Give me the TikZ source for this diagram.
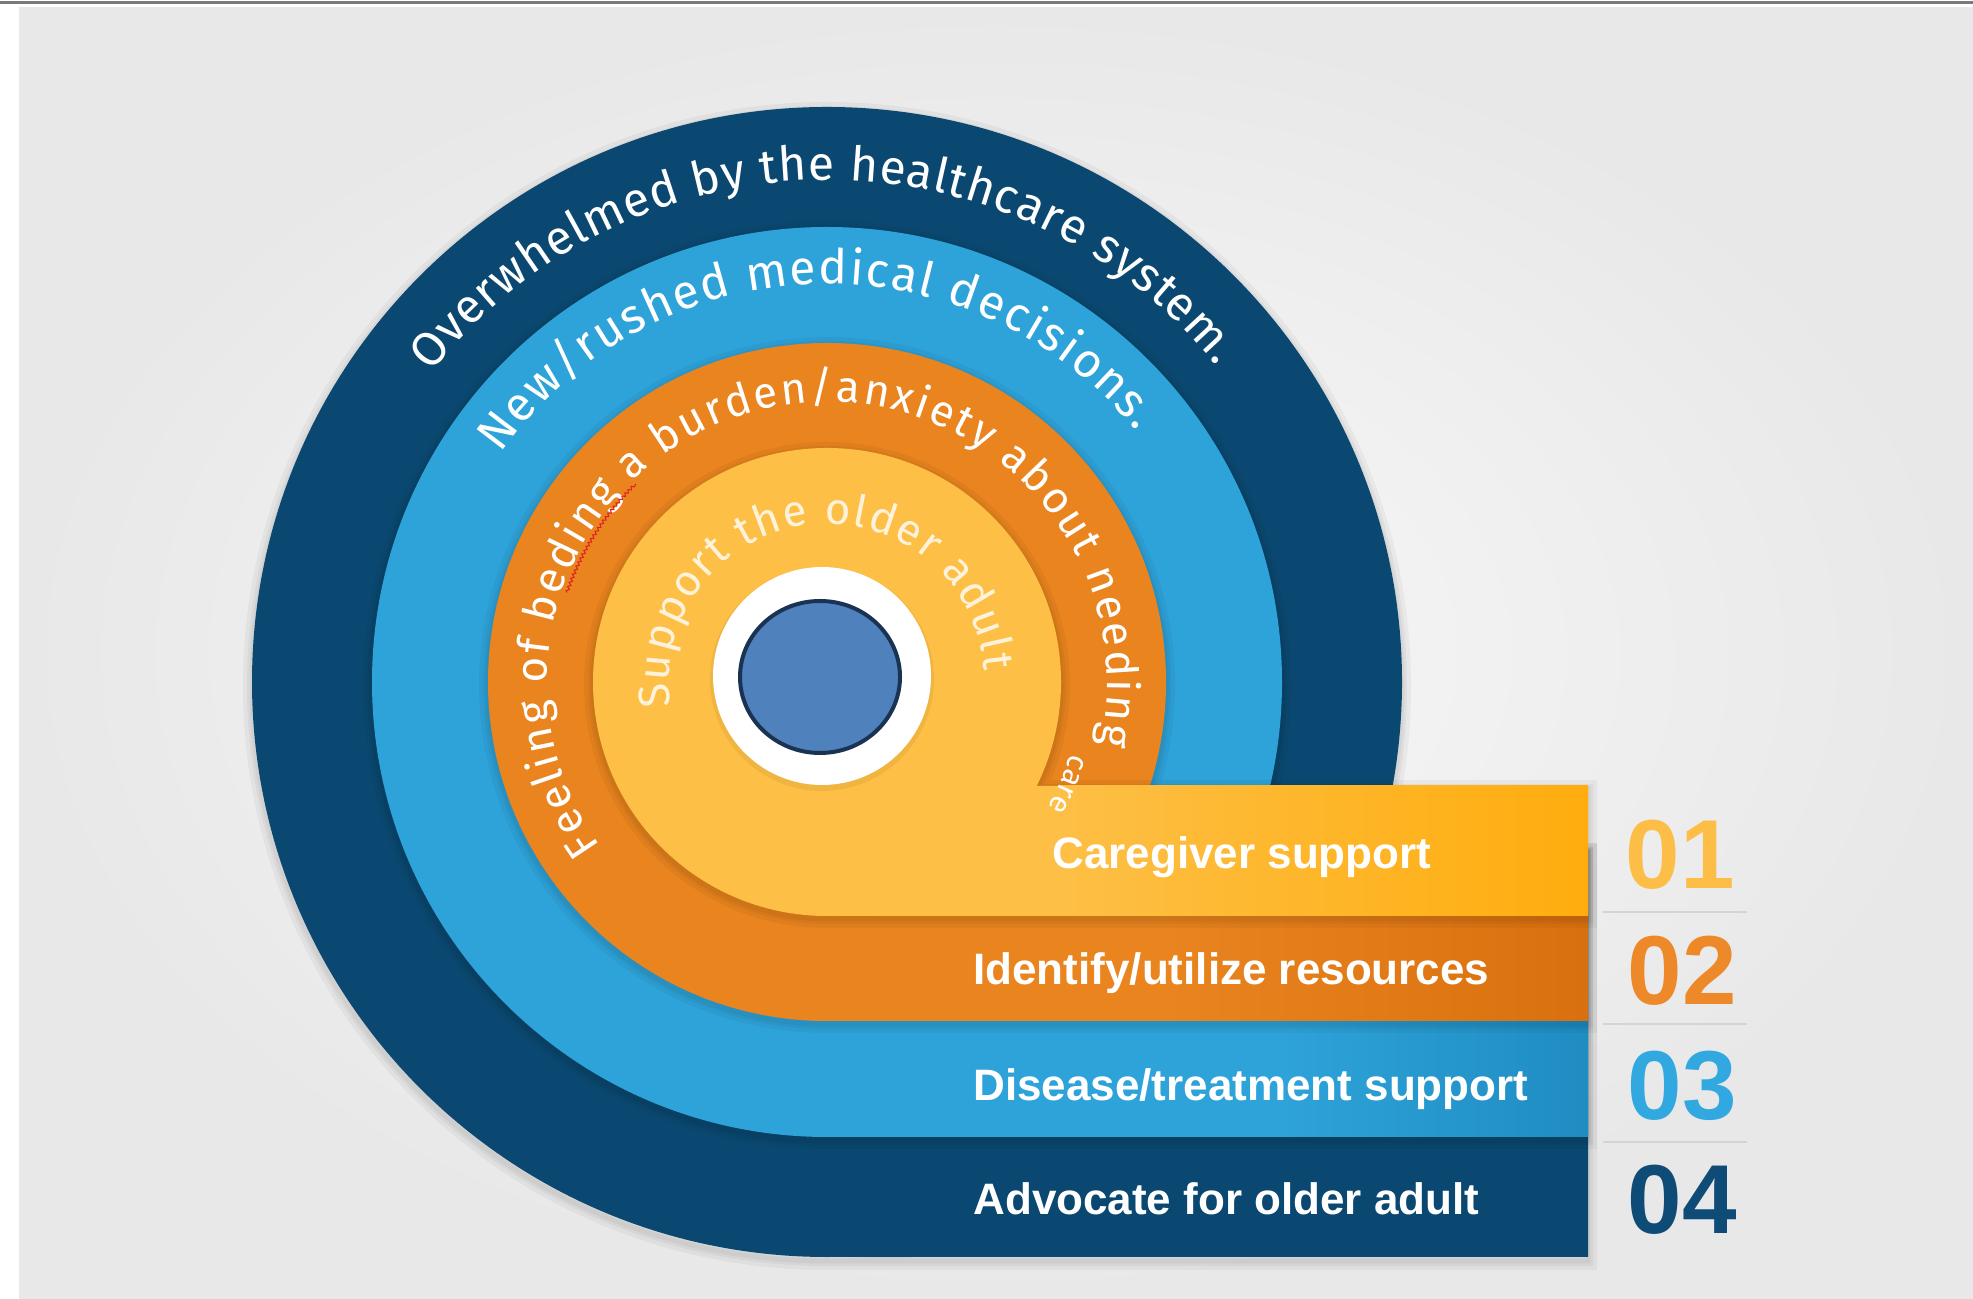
\documentclass[tikz,border=0pt]{standalone}
\usepackage{fontspec}
\setmainfont{Liberation Sans}
\newfontfamily\ringfont{Fira Sans}
\usetikzlibrary{decorations.text,decorations.pathmorphing}
\definecolor{dkblue}{HTML}{0B4871}
\definecolor{ltblue}{HTML}{2EA3D9}
\definecolor{ltbluedk}{HTML}{1F8CC2}
\definecolor{orng}{HTML}{E9841F}
\definecolor{orngdk}{HTML}{D9700F}
\definecolor{ylw}{HTML}{FDBF45}
\definecolor{ylwdk}{HTML}{FFAD0E}
\definecolor{dotblue}{HTML}{4F81BD}
\definecolor{dotedge}{HTML}{1B3352}
\definecolor{numa}{HTML}{FCBE46}
\definecolor{numb}{HTML}{EE892A}
\definecolor{numc}{HTML}{31A9E0}
\definecolor{numd}{HTML}{0E4B76}
\definecolor{bgin}{HTML}{FAFAFA}
\definecolor{bgout}{HTML}{E8E8E8}
\definecolor{sepline}{HTML}{D4D4D4}
\definecolor{topline}{HTML}{7A7A7A}
\definecolor{squig}{HTML}{E02020}
\newcommand{\ringA}{\ringfont\fontsize{24}{28}\selectfont\color{white}}
\newcommand{\ringB}{\ringfont\fontsize{22}{26}\selectfont\color{white}}
\newcommand{\ringC}{\ringfont\fontsize{22}{26}\selectfont\color{white!80!ylw}}
\newcommand{\ringD}{\ringfont\fontsize{15}{18}\selectfont\color{white}}
\begin{document}
\begin{tikzpicture}[x=0.5pt,y=0.5pt,
  halo/.style={draw=black, opacity=0.04, line width=#1},
  bandlabel/.style={font=\bfseries\fontsize{22}{26}\selectfont, text=white, inner sep=0pt, anchor=base west},
  numlabel/.style={font=\bfseries\fontsize{49}{58}\selectfont, inner sep=0pt, anchor=base},
  sepl/.style={draw=sepline, line width=0.6pt}]
\useasboundingbox (0,0) rectangle (1973,1299);
\fill[white] (0,0) rectangle (1973,1299);
\shade[inner color=bgin, outer color=bgout] (19,0) rectangle (1973,1291);
\draw[topline, line width=1.2pt] (0,1296.5) -- (1973,1296.5);

% dark blue ring + band
\foreach \w in {9pt,5pt,2.5pt}
  \draw[halo=\w, yshift=-2pt] (827,617) circle[radius=575] (827,450) rectangle (1588,42);
\fill[dkblue] (827,617) circle[radius=575] (827,450) rectangle (1588,42);

% light blue ring + band
\foreach \w in {9pt,5pt,2.5pt}
  \draw[halo=\w, yshift=-1.5pt] (827,617) circle[radius=455] (827,450) rectangle (1588,162);
\fill[ltblue] (827,617) circle[radius=455] (827,450) rectangle (1588,162);
\shade[left color=ltblue, right color=ltbluedk] (1282,162) rectangle (1588,450);

% orange ring + band
\foreach \w in {9pt,5pt,2.5pt}
  \draw[halo=\w, yshift=-1.5pt] (827,617) circle[radius=339] (827,450) rectangle (1588,278);
\fill[orng] (827,617) circle[radius=339] (827,450) rectangle (1588,278);
\shade[left color=orng, right color=orngdk] (1166,278) rectangle (1588,450);

% yellow disc + band
\foreach \w in {9pt,5pt,2.5pt}
  \draw[halo=\w, yshift=-1.5pt] (827,617) circle[radius=234] (827,513) rectangle (1588,383);
\fill[ylw] (827,617) circle[radius=234] (827,513) rectangle (1588,383);
\shade[left color=ylw, right color=ylwdk] (1061,383) rectangle (1588,513);

% white ring and blue dot
\fill[black, opacity=0.05] (822,620) circle[radius=112];
\fill[white] (822,623) circle[radius=109];
\filldraw[fill=dotblue, draw=dotedge, line width=2pt] (820,622) ellipse[x radius=80, y radius=76];

% curved texts
\begin{scope}[shift={(827,617)}]
  \path[decorate, decoration={text along path, text align=fit to path,
     text={|\ringA|Overwhelmed by the healthcare system.}}]
     (142:502) arc[start angle=142, end angle=39, radius=502];
  \path[decorate, decoration={text along path, text align=fit to path,
     text={|\ringA|New/rushed medical decisions.}}]
     (145:398) arc[start angle=145, end angle=39, radius=398];
  \path[decorate, decoration={text along path, text align=fit to path,
     text={|\ringB|Feeling of beding a burden/anxiety about needing}}]
     (216:280) arc[start angle=216, end angle=-13, radius=280];
  \path[decorate, decoration={text along path, text align=center,
     text={|\ringD|care}}]
     (-13:254) arc[start angle=-13, end angle=-33, radius=254];
  \path[decorate, decoration={text along path, text align=fit to path,
     text={|\ringC|Support the older adult}}]
     (189:158) arc[start angle=189, end angle=4, radius=158];
  \draw[draw=squig, line width=0.5pt, decorate,
     decoration={snake, amplitude=0.7pt, segment length=2.2pt}]
     (161:275) arc[start angle=161, end angle=134, radius=275];
\end{scope}

% band labels
\node[bandlabel] (lab1) at (1052,430) {Caregiver support};
\node[bandlabel] (lab2) at (973,314) {Identify/utilize resources};
\node[bandlabel] (lab3) at (973,198) {Disease/treatment support};
\node[bandlabel] (lab4) at (973,84) {Advocate for older adult};

% numbers and separators
\node[numlabel, text=numa] (num1) at (1680,410) {01};
\node[numlabel, text=numb] (num2) at (1682,294) {02};
\node[numlabel, text=numc] (num3) at (1682,179) {03};
\node[numlabel, text=numd] (num4) at (1682,65) {04};
\draw[sepl] (1603,387) -- (1747,387);
\draw[sepl] (1603,275) -- (1747,275);
\draw[sepl] (1603,157) -- (1747,157);
\end{tikzpicture}
\end{document}
